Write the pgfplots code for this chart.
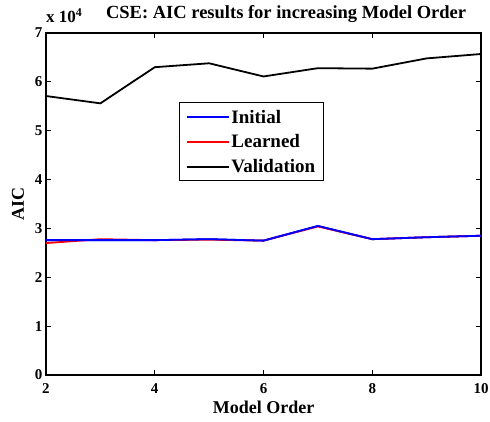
\documentclass[border=0pt]{standalone}
\usepackage{pgfplots}
\pgfplotsset{compat=1.18}
\usepackage{fontspec}
\setmainfont{Liberation Serif}
\begin{document}
\begin{tikzpicture}
\begin{axis}[
  scale only axis, width=435pt, height=342pt,
  xmin=2, xmax=10, ymin=0, ymax=70000,
  xtick={2,4,6,8,10}, xticklabels={2,4,6,8,10},
  ytick={0,10000,20000,30000,40000,50000,60000,70000},
  yticklabels={0,1,2,3,4,5,6,7},
  scaled y ticks=false,
  tick align=inside, xtick pos=both, ytick pos=both,
  tick style={black, line width=1.2pt}, major tick length=5pt,
  axis line style={line width=1.8pt},
  ticklabel style={font=\fontsize{15}{17}\selectfont\bfseries},
  xticklabel style={yshift=-5pt},
  xlabel={Model Order}, ylabel={AIC},
  label style={font=\fontsize{18}{20}\selectfont\bfseries},
  xlabel style={at={(axis description cs:0.5,0)}, anchor=base, yshift=-39pt, inner sep=0pt},
  ylabel style={at={(axis description cs:0,0.5)}, anchor=base, yshift=22pt, inner sep=0pt},
  title={CSE: AIC results for increasing Model Order},
  title style={font=\fontsize{18.5}{20}\selectfont\bfseries, at={(rel axis cs:0.552,1)}, anchor=base, yshift=8pt, inner sep=0pt},
  legend style={at={(rel axis cs:0.306,0.797)}, anchor=north west, draw=black, line width=1pt,
    font=\fontsize{19}{21}\selectfont\bfseries, inner xsep=6pt, inner ysep=5pt, row sep=6pt},
  legend cell align=left,
  legend image code/.code={\draw[#1] (0pt,0pt) -- (42pt,0pt);},
  clip=false,
]
\addplot[blue, line width=1.8pt] coordinates {(2,27600) (3,27600) (4,27600) (5,27800) (6,27500) (7,30500) (8,27800) (9,28200) (10,28500)};
\addlegendentry{Initial}
\addplot[red, line width=1.8pt] coordinates {(2,27000) (3,27800) (4,27600) (5,27700) (6,27500) (7,30400) (8,27800) (9,28200) (10,28500)};
\addlegendentry{Learned}
\addplot[black, line width=1.8pt] coordinates {(2,57100) (3,55600) (4,63000) (5,63800) (6,61100) (7,62800) (8,62700) (9,64800) (10,65700)};
\addlegendentry{Validation}
\addplot[blue, line width=1.8pt, forget plot] coordinates {(2,27600) (3,27600) (4,27600) (5,27800) (6,27500) (7,30500) (8,27800) (9,28200) (10,28500)};
\node[anchor=base west, inner sep=0pt, font=\fontsize{17}{19}\selectfont\bfseries] at ([yshift=10pt]rel axis cs:0,1) {x 10\textsuperscript{4}};
\end{axis}
\pgfresetboundingbox
\path ([shift={(-46pt,-47pt)}]current axis.south west) rectangle ([shift={(9pt,33pt)}]current axis.north east);
\end{tikzpicture}
\end{document}
